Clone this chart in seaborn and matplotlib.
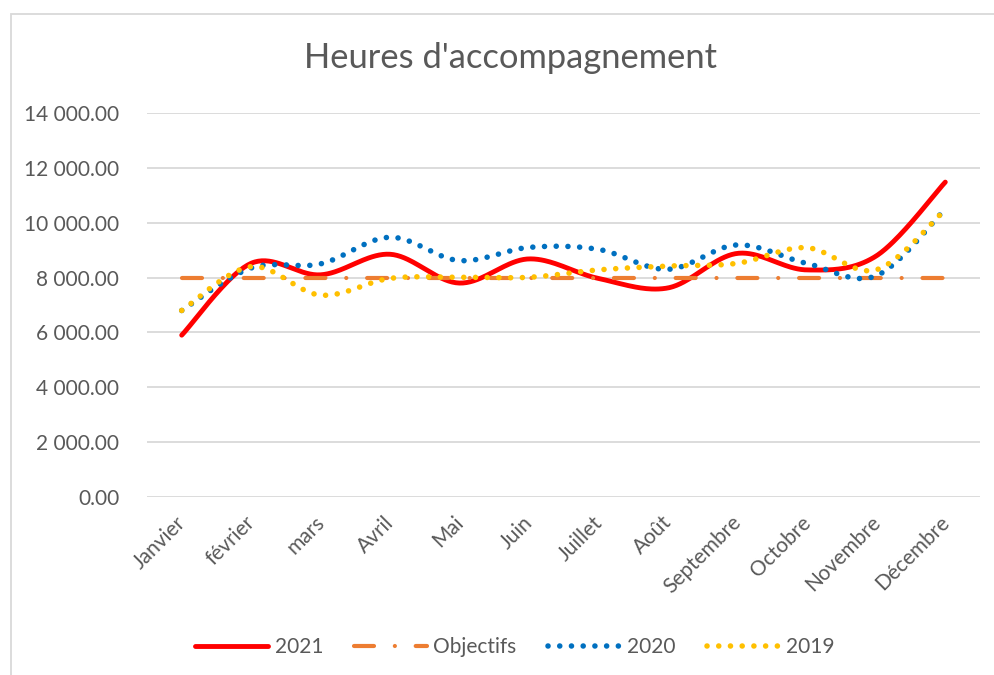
import numpy as np
import pandas as pd
import matplotlib.pyplot as plt
import seaborn as sns
from matplotlib.patches import Rectangle
from matplotlib.transforms import ScaledTranslation

# Données
mois = ['Janvier', 'février', 'mars', 'Avril', 'Mai', 'Juin', 'Juillet',
        'Août', 'Septembre', 'Octobre', 'Novembre', 'Décembre']
heures_2021 = [5900, 8520, 8100, 8850, 7800, 8680, 7970, 7620, 8880, 8280, 8780, 11480]
objectifs = [8000, 8000, 8000, 8000, 8000, 8000, 8000, 8000, 8000, 8000, 8000, 8000]
heures_2020 = [6800, 8350, 8500, 9470, 8620, 9100, 9030, 8300, 9190, 8520, 8060, 10500]
heures_2019 = [6800, 8400, 7360, 7970, 8010, 8010, 8280, 8420, 8520, 9090, 8280, 10480]
y_ticks = [0, 2000, 4000, 6000, 8000, 10000, 12000, 14000]

GRIS = '#595959'


def lisser(valeurs, n=40):
    # courbe lissée façon Excel (Bézier / Catmull-Rom) pour le tracé
    pts = np.column_stack([np.arange(len(valeurs)), np.asarray(valeurs, float)])
    p = np.vstack([pts[0], pts, pts[-1]])
    t = np.linspace(0, 1, n)[:, None]
    morceaux = []
    for i in range(len(pts) - 1):
        p0, p1, p2, p3 = p[i], p[i + 1], p[i + 2], p[i + 3]
        c1 = p1 + (p2 - p0) / 6
        c2 = p2 - (p3 - p1) / 6
        b = (1 - t) ** 3 * p1 + 3 * (1 - t) ** 2 * t * c1 + 3 * (1 - t) * t ** 2 * c2 + t ** 3 * p2
        morceaux.append(b if i == 0 else b[1:])
    c = np.vstack(morceaux)
    return pd.DataFrame({'x': c[:, 0], 'y': c[:, 1]})


sns.set_theme(style='white')
plt.rcParams['font.family'] = ['Lato', 'DejaVu Sans']

fig = plt.figure(figsize=(9.95, 6.75), dpi=100)
ax = fig.add_axes([147 / 995, 1 - 497 / 675, (980 - 147) / 995, (497 - 113) / 675])

# cadre du graphique
fig.patches.append(Rectangle((11 / 995, -0.1), 1.2, 1 - 14 / 675 + 0.1, transform=fig.transFigure,
                             fill=False, edgecolor='#D9D9D9', linewidth=1.3))

series = [
    ('2021', heures_2021, dict(color='#FF0000', linewidth=3.5, solid_capstyle='round')),
    ('Objectifs', objectifs, dict(color='#ED7D31', linewidth=3.0, dashes=(4.8, 5.0, 0.01, 5.0),
                                  dash_capstyle='round')),
    ('2020', heures_2020, dict(color='#0070C0', linewidth=4.0, dashes=(0.01, 2.1),
                               dash_capstyle='round')),
    ('2019', heures_2019, dict(color='#FFC000', linewidth=4.0, dashes=(0.01, 2.1),
                               dash_capstyle='round')),
]
for nom, valeurs, style in series:
    df = lisser(valeurs)
    sns.lineplot(data=df, x='x', y='y', sort=False, estimator=None, ax=ax, label=nom, **style)

ax.set_xlim(-0.5, 11.5)
ax.set_ylim(0, 14000)
ax.set_yticks(y_ticks)
ax.set_yticklabels([f'{v:,.2f}'.replace(',', ' ') for v in y_ticks])
ax.set_xticks(range(len(mois)))
ax.set_xticklabels(mois, rotation=45, ha='right', rotation_mode='anchor')
ax.tick_params(axis='both', length=0, labelsize=15, labelcolor=GRIS)
ax.tick_params(axis='y', pad=20)
ax.tick_params(axis='x', pad=11)
decalage = ScaledTranslation(-6 / 100, 0, fig.dpi_scale_trans)
for lbl in ax.get_xticklabels():
    lbl.set_transform(lbl.get_transform() + decalage)
ax.set_xlabel('')
ax.set_ylabel('')
ax.grid(axis='y', color='#D9D9D9', linewidth=1.3)
ax.set_axisbelow(True)
for s in ax.spines.values():
    s.set_visible(False)

fig.text(511 / 995, 1 - 58 / 675, "Heures d'accompagnement", ha='center', va='center',
         fontsize=24.8, color=GRIS)

handles, labels = ax.get_legend_handles_labels()
ax.legend_.remove()
leg = fig.legend(handles, labels, loc='center', bbox_to_anchor=(515 / 995, 1 - 647 / 675),
                 ncol=4, frameon=False, fontsize=15, handlelength=3.5, handletextpad=0.3,
                 columnspacing=1.5)
for txt in leg.get_texts():
    txt.set_color(GRIS)

fig.savefig('out.png', dpi=100, facecolor='white')
